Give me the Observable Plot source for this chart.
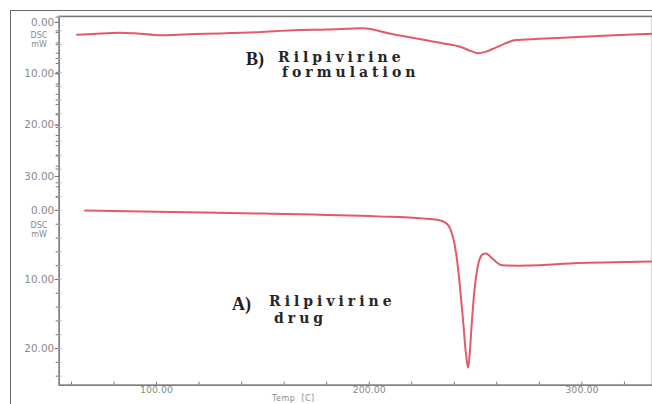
<!DOCTYPE html>
<html>
<head>
<meta charset="utf-8">
<script src="https://cdn.jsdelivr.net/npm/d3@7"></script>
<script src="https://cdn.jsdelivr.net/npm/@observablehq/plot@0.6"></script>
<style>
  html, body { margin: 0; padding: 0; background: #fff; overflow: hidden; }
  #wrap { position: relative; width: 652px; height: 404px; overflow: hidden; background: #fff; }
  #border { position: absolute; left: 10px; top: 10px; width: 700px; height: 450px;
            border-left: 1.5px solid #6a6a6a; border-top: 1.5px solid #6a6a6a; }
  .layer { position: absolute; left: 0; top: 0; }
  .note { position: absolute; font-family: "DejaVu Serif", serif; font-weight: bold; color: #262626;
          font-size: 14px; letter-spacing: 4px; line-height: 12px; white-space: nowrap; }
  .tag { position: absolute; font-family: "Liberation Serif", serif; font-weight: bold; color: #1e1e1e;
         font-size: 18px; line-height: 1; }
  .unit { position: absolute; font-family: "DejaVu Sans", sans-serif; color: #8a8a8a; font-size: 8px;
          line-height: 8.5px; text-align: center; width: 34px; }
  .xlab { position: absolute; font-family: "DejaVu Sans", sans-serif; color: #8a8a8a; font-size: 8px;
          line-height: 8px; white-space: nowrap; letter-spacing: 0.5px; }
</style>
</head>
<body>
<div id="wrap">
  <div id="border"></div>
  <div id="lower" class="layer"></div>
  <div id="upper" class="layer"></div>
  <div class="unit" style="left:22px;top:32px">DSC<br>mW</div>
  <div class="unit" style="left:22px;top:222px">DSC<br>mW</div>
  <div class="tag" style="left:246px;top:50px">B)</div>
  <div class="note" style="left:278px;top:51px">Rilpivirine</div>
  <div class="note" style="left:282px;top:66px">formulation</div>
  <div class="tag" style="left:232px;top:295px">A)</div>
  <div class="note" style="left:269px;top:295px">Rilpivirine</div>
  <div class="note" style="left:274px;top:312px">drug</div>
  <div class="xlab" style="left:272px;top:395px">Temp&nbsp;&nbsp;[C]</div>
</div>
<script>
// Temperature (°C) and DSC (mW) readings
const drugTemp = [66.4, 100, 150, 204, 225, 232, 236, 238, 239.5, 241, 242.5, 244, 245.4, 246.5, 247.3, 248.3, 249.5, 250.8, 252.1, 253.7, 254.9, 257, 259.5, 262.5, 270, 280, 298, 315, 334];
const drugDSC  = [0.0, 0.2, 0.45, 0.86, 1.15, 1.35, 1.8, 2.6, 4.0, 6.5, 10.5, 15.5, 20.5, 22.8, 20.5, 16.0, 11.5, 8.5, 6.9, 6.3, 6.25, 6.7, 7.4, 7.95, 8.0, 7.95, 7.6, 7.5, 7.4];

const formTemp = [62.6, 70, 82.7, 92, 101.4, 115, 130, 148, 164, 180, 197, 210, 223, 235, 243, 248, 251, 255, 259, 264, 268.2, 280, 298, 315, 334];
const formDSC  = [2.4, 2.25, 2.0, 2.2, 2.5, 2.3, 2.15, 1.9, 1.55, 1.4, 1.15, 2.2, 3.2, 4.1, 4.8, 5.6, 6.0, 5.7, 5.0, 4.1, 3.5, 3.2, 2.85, 2.5, 2.2];

const xMajor = [100, 200, 300];
const xMinor = d3.range(60, 340, 20);
const lowerTicks = [0, 10, 20];
const upperTicks = [0, 10, 20, 30];

const drug = drugTemp.map((t, i) => ({t, v: drugDSC[i]}));
const form = formTemp.map((t, i) => ({t, v: formDSC[i]}));

const W = 656, H = 404;
const xDomain = [54.2, 333.2];
const lineColor = "#e25a6a";
const axisColor = "#777";
const fmt = d3.format(".2f");

const lower = Plot.plot({
  width: W, height: H,
  marginLeft: 59, marginRight: 0, marginTop: 16, marginBottom: 17,
  style: {background: "transparent", fontFamily: "DejaVu Sans, sans-serif"},
  x: {domain: xDomain, label: null},
  y: {domain: [-28.1, 25.3], reverse: true, label: null},
  marks: [
    Plot.frame({stroke: axisColor, strokeWidth: 1.6}),
    Plot.axisY({ticks: d3.range(-28, 26, 2), tickSize: 3, tickFormat: () => "", stroke: axisColor, label: null}),
    Plot.axisY({ticks: d3.range(-28, 26, 2), tickSize: -3, tickFormat: () => "", stroke: "#bbb", label: null}),
    Plot.axisY({ticks: lowerTicks, tickSize: 4, tickFormat: fmt, fontSize: 10.5, fill: "#8a8a8a", stroke: axisColor, tickPadding: 1, label: null}),
    Plot.axisX({ticks: xMinor, tickSize: -3, tickFormat: () => "", stroke: axisColor, label: null}),
    Plot.axisX({ticks: xMajor, tickSize: 0, tickFormat: fmt, fontSize: 9.5, fill: "#8a8a8a", tickPadding: 1, label: null}),
    Plot.line(drug, {x: "t", y: "v", stroke: lineColor, strokeWidth: 2, curve: "monotone-x"})
  ]
});
document.getElementById("lower").appendChild(lower);

const upper = Plot.plot({
  width: W, height: H,
  marginLeft: 59, marginRight: 0, marginTop: 16, marginBottom: 17,
  style: {background: "transparent", fontFamily: "DejaVu Sans, sans-serif"},
  x: {domain: xDomain, axis: null, label: null},
  y: {domain: [-1.16, 70.6], reverse: true, label: null},
  marks: [
    Plot.axisY({ticks: d3.range(0, 35, 2), tickSize: 3, tickFormat: () => "", stroke: axisColor, label: null}),
    Plot.axisY({ticks: upperTicks, tickSize: 4, tickFormat: fmt, fontSize: 10.5, fill: "#8a8a8a", stroke: axisColor, tickPadding: 1, label: null}),
    Plot.line(form, {x: "t", y: "v", stroke: lineColor, strokeWidth: 2, curve: "monotone-x"})
  ]
});
document.getElementById("upper").appendChild(upper);
</script>
</body>
</html>
